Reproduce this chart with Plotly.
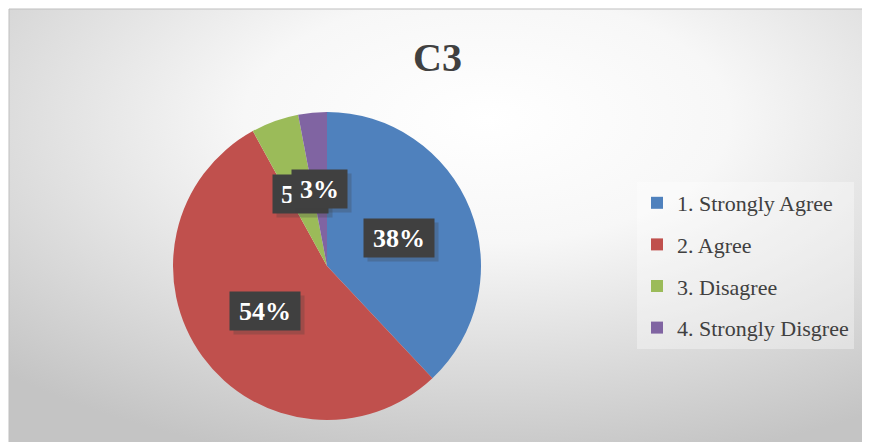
import math
import urllib.parse
import plotly.graph_objects as go

# ---- data ----
categories = ["1. Strongly Agree", "2. Agree", "3. Disagree", "4. Strongly Disgree"]
values = [38, 54, 5, 3]
title_text = "C3"

# ---- style ----
colors = ["#4F81BD", "#C0504D", "#9BBB59", "#8064A2"]
W, H = 870, 442
OFF = 8  # page body margin offset
FONT = "Liberation Serif"
TXT = "#404040"

# pie geometry (pixels, figure coords)
PCX, PCY, PR = 327 - OFF, 266 - OFF, 154

fig = go.Figure()

fig.add_trace(go.Pie(
    labels=categories, values=values, sort=False, direction="clockwise",
    rotation=0, textinfo="none", hoverinfo="label+percent",
    marker=dict(colors=colors, line=dict(width=0)),
    domain=dict(x=[(PCX - PR) / W, (PCX + PR) / W],
                y=[1 - (PCY + PR) / H, 1 - (PCY - PR) / H]),
    showlegend=False,
))

# legend entries (one per category, so the gap between them can be set)
for i, (cat, col) in enumerate(zip(categories, colors)):
    fig.add_trace(go.Scatter(
        x=[None], y=[None], mode="markers", name=cat, legendgroup=f"g{i}",
        marker=dict(symbol="square", size=12, color=col), showlegend=True,
    ))

# data labels: boxes placed at the middle angle of each slice
total = sum(values)
annotations = []
cum = 0
label_r = 0.5 * PR
for v in values:
    mid = (cum + v / 2) / total * 2 * math.pi
    cum += v
    px = PCX + label_r * math.sin(mid)
    py = PCY - label_r * math.cos(mid)
    txt = f"{round(v / total * 100)}%"
    bw_ = 15 * len(txt) + 17
    common = dict(x=px / W, y=1 - py / H, xref="paper", yref="paper", text=txt,
                  showarrow=False, width=bw_, height=30, borderpad=4,
                  xanchor="center", yanchor="middle",
                  align="center", valign="middle")
    # shadow
    annotations.append(dict(
        **common, xshift=4, yshift=-4,
        font=dict(family=FONT, size=26, color="rgba(0,0,0,0)", weight="bold"),
        bgcolor="rgba(60,60,60,0.25)",
    ))
    annotations.append(dict(
        **common,
        font=dict(family=FONT, size=26, color="white", weight="bold"),
        bgcolor="#404040",
    ))

annotations.append(dict(
    x=(437 - OFF) / W, y=1 - (57 - OFF) / H, xref="paper", yref="paper",
    text=title_text, showarrow=False, xanchor="center", yanchor="middle",
    font=dict(family=FONT, size=40, color=TXT, weight="bold"),
))

# radial gradient background of the chart area
bx0, by0 = 9 - OFF, 9 - OFF
bw, bh = W - bx0, H - by0
svg = (f'<svg xmlns="http://www.w3.org/2000/svg" width="{bw}" height="{bh}">'
       '<defs><radialGradient id="g" cx="0.55" cy="0.25" r="0.8">'
       '<stop offset="0" stop-color="#ffffff"/>'
       '<stop offset="0.35" stop-color="#f7f7f7"/>'
       '<stop offset="1" stop-color="#c4c4c4"/></radialGradient></defs>'
       f'<rect width="{bw}" height="{bh}" fill="url(#g)"/></svg>')
src = "data:image/svg+xml;charset=utf-8," + urllib.parse.quote(svg)

fig.update_layout(
    width=W, height=H, margin=dict(l=0, r=0, t=0, b=0),
    paper_bgcolor="white", plot_bgcolor="rgba(0,0,0,0)",
    xaxis=dict(visible=False), yaxis=dict(visible=False),
    images=[dict(source=src, xref="paper", yref="paper", x=bx0 / W, y=1 - by0 / H,
                 sizex=bw / W, sizey=bh / H, xanchor="left", yanchor="top",
                 sizing="stretch", layer="below")],
    shapes=[dict(type="rect", xref="paper", yref="paper", x0=bx0 / W, y0=0,
                 x1=1, y1=1 - by0 / H, line=dict(color="#bfbfbf", width=1),
                 layer="above")],
    annotations=annotations,
    legend=dict(x=(637 - OFF) / W, y=1 - (182 - OFF) / H, xanchor="left", yanchor="top",
                bgcolor="rgba(255,255,255,0.35)", borderwidth=0,
                font=dict(family=FONT, size=22, color=TXT),
                traceorder="grouped", tracegroupgap=10, itemwidth=30),
    showlegend=True,
)

fig.write_html("out.html")
